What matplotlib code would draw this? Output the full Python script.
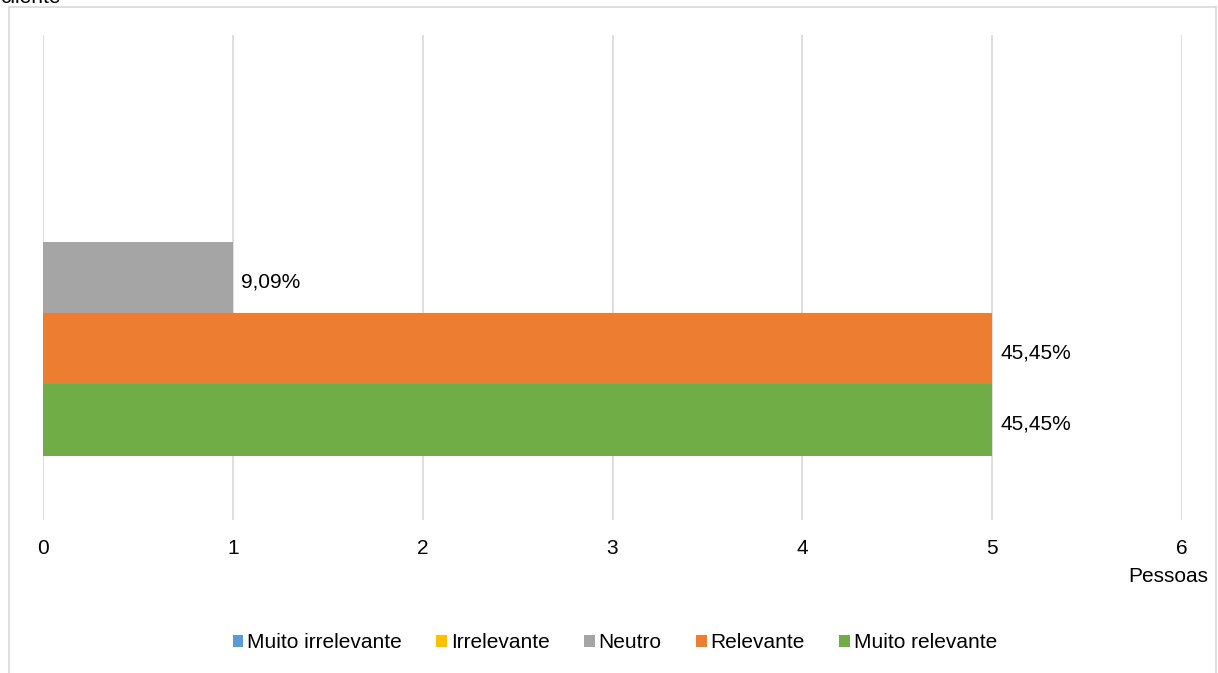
import numpy as np
import matplotlib.pyplot as plt
from matplotlib.patches import Patch
from matplotlib.lines import Line2D

plt.rcParams['font.family'] = ['Liberation Sans', 'DejaVu Sans']
plt.rcParams['font.size'] = 15

# Respostas (número de pessoas por opção)
categorias = ['Muito irrelevante', 'Irrelevante', 'Neutro', 'Relevante', 'Muito relevante']
pessoas = [0, 0, 1, 5, 5]
cores = ['#5b9bd5', '#ffc000', '#a5a5a5', '#ed7d31', '#70ad47']
x_ticks = [0, 1, 2, 3, 4, 5, 6]

W, H = 1218, 673
fig = plt.figure(figsize=(W / 100, H / 100), dpi=100)
ax = fig.add_axes([43 / W, 1 - 520 / H, (1182 - 43) / W, (520 - 35) / H])

total = sum(pessoas)
n = len(categorias)
pos = np.arange(n)[::-1]  # primeira série em cima
for p, v, c in zip(pos, pessoas, cores):
    ax.barh(p, v, height=1.0, color=c, zorder=3)
    if v > 0:
        pct = '{:.2f}%'.format(v / total * 100).replace('.', ',')
        ax.annotate(pct, (v, p), xytext=(6, -3), textcoords='offset points',
                    va='center', ha='left', color='#000000')

ax.set_xlim(0, 6)
ax.set_ylim(-0.5 - 0.905, n - 0.5 + 0.905)
ax.set_xticks(x_ticks)
ax.set_yticks([])
ax.tick_params(axis='x', length=0, pad=14)
ax.grid(axis='x', color='#d9d9d9', lw=1.2, zorder=0)
for s in ax.spines.values():
    s.set_visible(False)

fig.text(1208 / W, 1 - 577 / H, 'Pessoas', ha='right', va='center')

# legenda
handles = [Patch(facecolor=c, edgecolor='none') for c in cores]
fig.legend(handles, categorias, loc='center', bbox_to_anchor=(615 / W, 1 - 643 / H),
           ncol=5, frameon=False, handlelength=0.5, handleheight=0.5,
           handletextpad=0.2, columnspacing=1.65)

# moldura do gráfico
fc = '#d9d9d9'
fig.add_artist(Line2D([8.5 / W, 8.5 / W], [0, 1 - 7 / H], color=fc, lw=1.2, transform=fig.transFigure))
fig.add_artist(Line2D([8.5 / W, 1216 / W], [1 - 7 / H, 1 - 7 / H], color=fc, lw=1.2, transform=fig.transFigure))
fig.add_artist(Line2D([1216 / W, 1216 / W], [0, 1 - 7 / H], color=fc, lw=1.2, transform=fig.transFigure))

# título cortado no topo
fig.text(0.0, 1 - 3 / H, 'cliente', ha='left', va='baseline')

fig.savefig('out.png', dpi=100)
